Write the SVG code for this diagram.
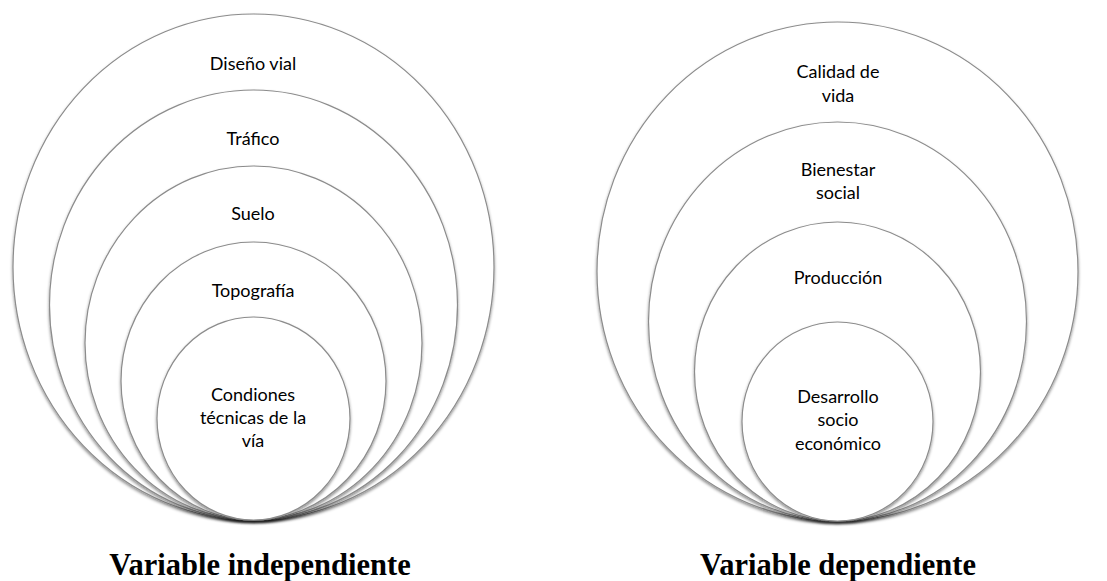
<svg xmlns="http://www.w3.org/2000/svg" width="1107" height="581" viewBox="0 0 1107 581">
  <defs>
    <filter id="shade" x="-10%" y="-10%" width="120%" height="125%">
      <feDropShadow dx="0" dy="2" stdDeviation="1.6" flood-color="#000" flood-opacity="0.45"/>
    </filter>
    <style>
      .ring { fill: #ffffff; stroke: #8c8c8c; stroke-width: 1.2; filter: url(#shade); }
      .lbl { font-family: Lato, "Open Sans", "Liberation Sans", sans-serif; font-size: 18px; fill: #000; text-anchor: middle; }
      .title { font-family: "Liberation Serif", "Times New Roman", serif; font-size: 30.5px; font-weight: bold; fill: #000; text-anchor: middle; }
    </style>
  </defs>
  <rect width="1107" height="581" fill="#ffffff"/>

  <!-- Independent variable: nested rings touching at the bottom -->
  <g id="independiente">
    <g id="diseno-vial">
      <ellipse class="ring" cx="253.5" cy="267" rx="240.5" ry="253"/>
      <text class="lbl" x="253" y="70">Diseño vial</text>
    </g>
    <g id="trafico">
      <ellipse class="ring" cx="253.5" cy="305" rx="204" ry="215"/>
      <text class="lbl" x="253" y="145">Tráfico</text>
    </g>
    <g id="suelo">
      <ellipse class="ring" cx="253.5" cy="343" rx="168.5" ry="177"/>
      <text class="lbl" x="253" y="220">Suelo</text>
    </g>
    <g id="topografia">
      <ellipse class="ring" cx="253.5" cy="381" rx="132.5" ry="139"/>
      <text class="lbl" x="253" y="297">Topografía</text>
    </g>
    <g id="condiciones">
      <ellipse class="ring" cx="253.5" cy="418.5" rx="96.5" ry="101.5"/>
      <text class="lbl" x="253" y="401">Condiones</text>
      <text class="lbl" x="253" y="424">técnicas de la</text>
      <text class="lbl" x="253" y="447">vía</text>
    </g>
    <text class="title" x="260" y="575">Variable independiente</text>
  </g>

  <!-- Dependent variable: nested rings touching at the bottom -->
  <g id="dependiente">
    <g id="calidad-vida">
      <ellipse class="ring" cx="837.5" cy="271.5" rx="240.5" ry="249.5"/>
      <text class="lbl" x="838" y="78">Calidad de</text>
      <text class="lbl" x="838" y="102">vida</text>
    </g>
    <g id="bienestar">
      <ellipse class="ring" cx="837.5" cy="321.5" rx="189" ry="199.5"/>
      <text class="lbl" x="838" y="176">Bienestar</text>
      <text class="lbl" x="838" y="199">social</text>
    </g>
    <g id="produccion">
      <ellipse class="ring" cx="837.5" cy="371.5" rx="143" ry="149.5"/>
      <text class="lbl" x="838" y="284">Producción</text>
    </g>
    <g id="desarrollo">
      <ellipse class="ring" cx="837.5" cy="421.5" rx="95.5" ry="99.5"/>
      <text class="lbl" x="838" y="403">Desarrollo</text>
      <text class="lbl" x="838" y="426">socio</text>
      <text class="lbl" x="838" y="450">económico</text>
    </g>
    <text class="title" x="838" y="575">Variable dependiente</text>
  </g>

  <!-- no connectors in this figure -->
  <g id="connectors"/>
</svg>
